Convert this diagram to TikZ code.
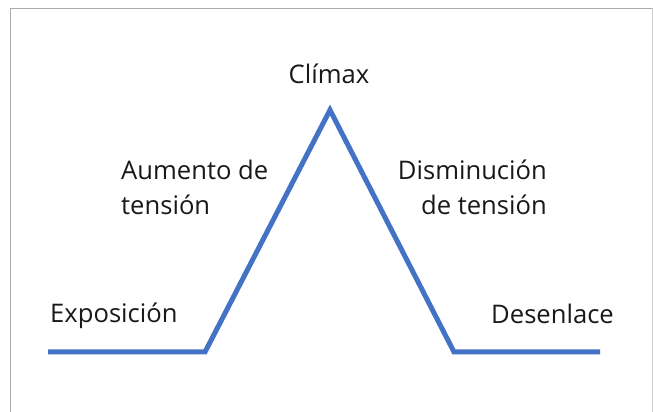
\documentclass[tikz,border=0pt]{standalone}
\usepackage{fontspec}
\setmainfont{Open Sans}
\definecolor{plotblue}{HTML}{4472C4}
\definecolor{framegray}{HTML}{AAAAAA}
\begin{document}
\begin{tikzpicture}[x=1pt,y=1pt,
  lbl/.style={inner sep=0pt, font=\fontsize{25.6}{35}\selectfont, text=black!90},
  arc/.style={draw=plotblue, line width=5pt, line join=miter}]
\useasboundingbox (0,0) rectangle (653,412);
\fill[white] (0,0) rectangle (653,412);
% frame
\draw[framegray, line width=1.5pt] (10.5,0) -- (10.5,403.5) -- (653,403.5);
\draw[framegray!60, line width=1pt] (652.5,403.5) -- (652.5,0);
% path points
\coordinate (s) at (48,60);
\coordinate (b1) at (205,60);
\coordinate (p) at (330,302);
\coordinate (b2) at (454,60);
\coordinate (e) at (600,60);
\draw[arc] (s) -- (b1) -- (p) -- (b2) -- (e);
% labels
\node[lbl, anchor=base] (cl) at (329,328) {Clímax};
\node[lbl, anchor=base west] (au) at (121,232) {Aumento de};
\node[lbl, anchor=base west] (au2) at (121,197) {tensión};
\node[lbl, anchor=base east] (di) at (547,232) {Disminución};
\node[lbl, anchor=base east] (di2) at (547,197) {de tensión};
\node[lbl, anchor=base west] (ex) at (50,89) {Exposición};
\node[lbl, anchor=base east] (de) at (614,88) {Desenlace};
\end{tikzpicture}
\end{document}
